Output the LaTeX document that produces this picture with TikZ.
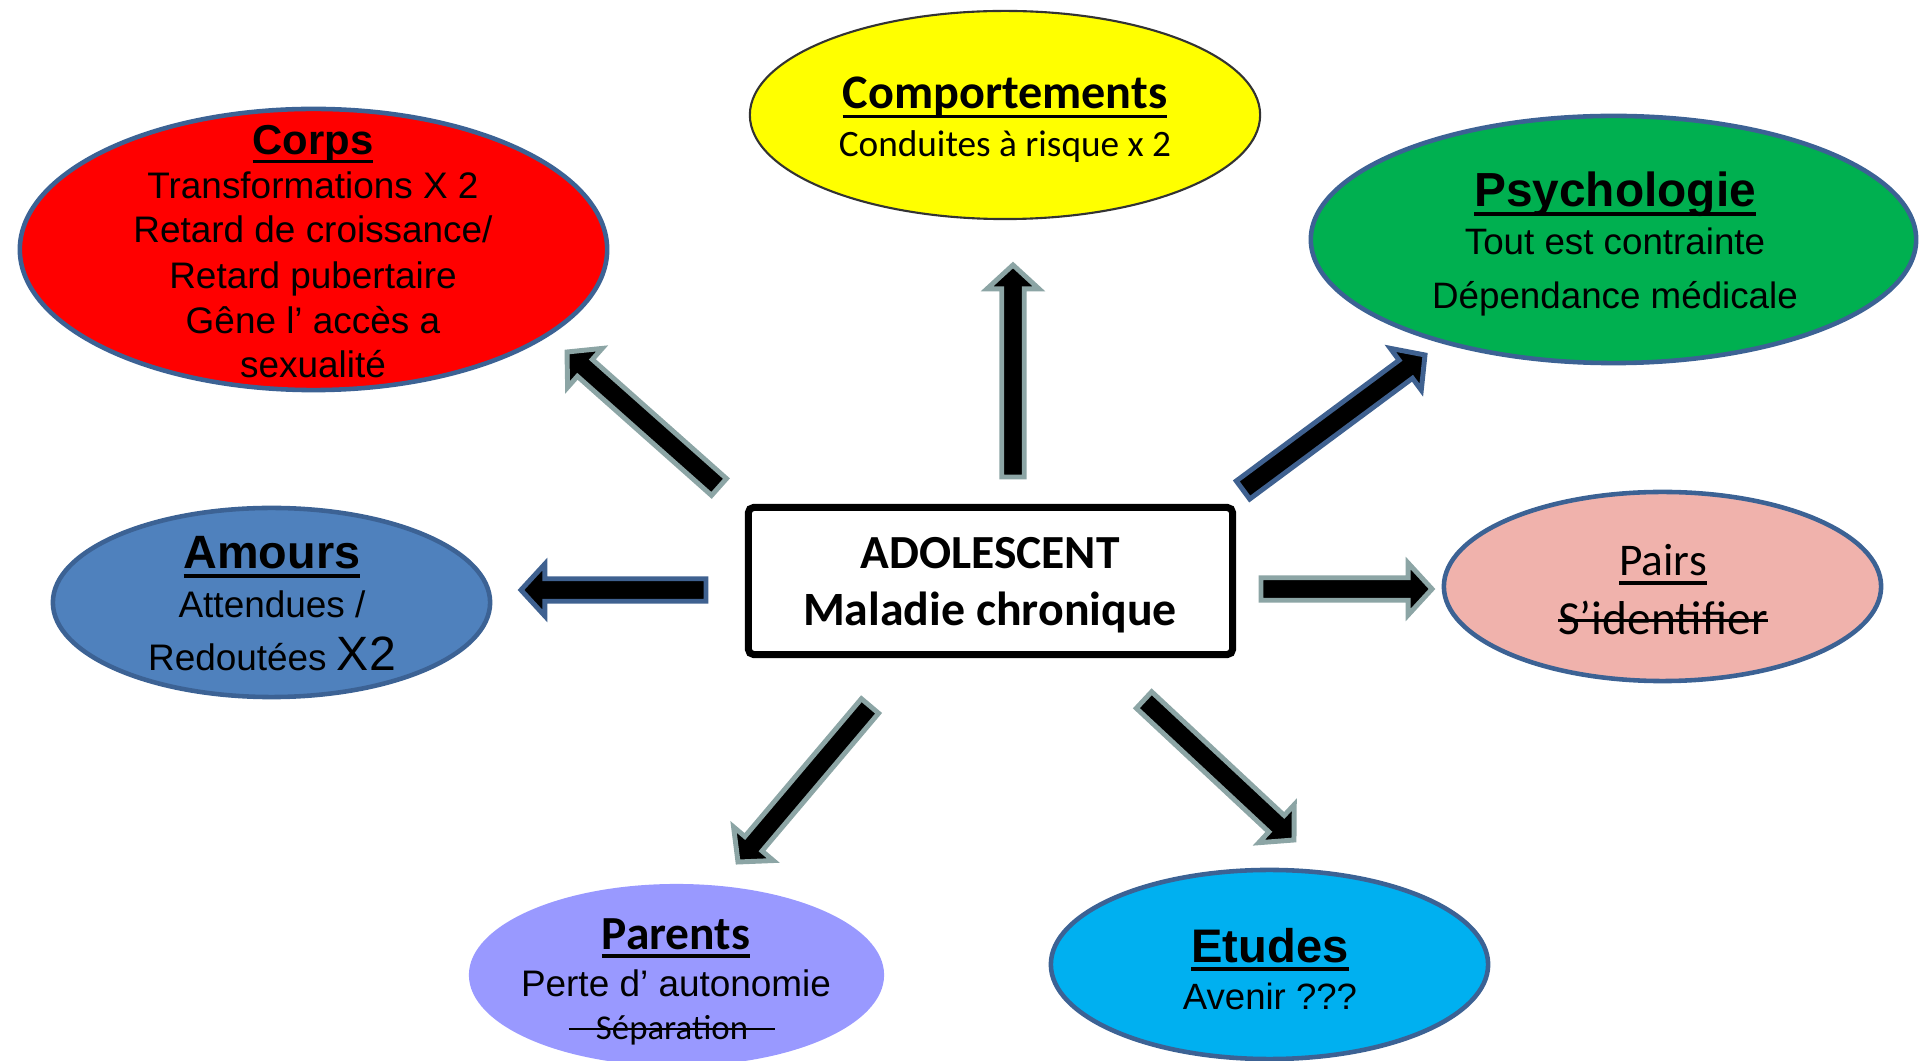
\documentclass[tikz,border=0pt]{standalone}
\usepackage{fontspec}
\usetikzlibrary{calc,shapes.geometric}
\newfontfamily\arial{Liberation Sans}
\newfontfamily\calibri{Carlito}
\newcommand\fs[1]{\fontsize{#1}{#1}\selectfont}
\newcommand\uln[1]{\setbox0\hbox{#1}\rlap{\rule[-0.19em]{\wd0}{0.075em}}\box0}
\newcommand\strk[2][0pt]{\setbox0\hbox{#2}\rlap{\hspace{-#1}\rule[0.27em]{\dimexpr\wd0+#1+#1\relax}{0.06em}}\box0}
\definecolor{eborder}{RGB}{60,98,148}
\definecolor{arrgray}{RGB}{140,165,165}
\definecolor{arrblue}{RGB}{63,97,144}
\definecolor{cred}{RGB}{255,0,0}
\definecolor{cyellow}{RGB}{255,255,0}
\definecolor{cgreen}{RGB}{0,176,80}
\definecolor{cblue}{RGB}{79,129,189}
\definecolor{cpink}{RGB}{240,178,172}
\definecolor{clav}{RGB}{153,153,255}
\definecolor{ccyan}{RGB}{0,176,240}
\tikzset{
  ell/.style={ellipse, draw=eborder, line width=1.3pt, inner sep=0pt},
  txt/.style={anchor=base, inner sep=0pt, text=black},
  arrg/.style={fill=black, draw=arrgray, line width=1.4pt, line join=miter},
  arrb/.style={fill=black, draw=arrblue, line width=1.4pt, line join=miter},
}
\newcommand\blockarrow[3]{%
  \coordinate (#2-hb) at ($(#2)!6.8pt!(#1)$);
  \draw[#3] ($(#1)!3.2pt!90:(#2)$) -- ($(#2-hb)!3.2pt!-90:(#1)$) -- ($(#2-hb)!7.4pt!-90:(#1)$) -- (#2) -- ($(#2-hb)!7.4pt!90:(#1)$) -- ($(#2-hb)!3.2pt!90:(#1)$) -- ($(#1)!3.2pt!-90:(#2)$) -- cycle;}
\begin{document}
\begin{tikzpicture}[x=0.01cm,y=-0.01cm]
\useasboundingbox (0,0) rectangle (1920,1061);
% ellipses
\node[ell, fill=cred, minimum width=5.87cm, minimum height=2.81cm] (corps) at (313.5,249.5) {};
\node[ell, fill=cyellow, draw=black!80, line width=0.6pt, minimum width=5.1cm, minimum height=2.08cm] (comp) at (1005,115) {};
\node[ell, fill=cgreen, minimum width=6.05cm, minimum height=2.47cm] (psy) at (1613.5,239.5) {};
\node[ell, fill=cblue, minimum width=4.37cm, minimum height=1.89cm] (amours) at (271.5,602.5) {};
\node[ell, fill=cpink, minimum width=4.37cm, minimum height=1.89cm] (pairs) at (1662.5,586.5) {};
\node[ellipse, fill=clav, inner sep=0pt, minimum width=4.15cm, minimum height=1.82cm] (parents) at (676.5,975) {};
\node[ell, fill=ccyan, minimum width=4.37cm, minimum height=1.89cm] (etudes) at (1269.5,964.5) {};
\node[draw=black, line width=2pt, rounded corners=1.5pt, fill=white, minimum width=4.84cm, minimum height=1.47cm] (ado) at (990.5,581) {};
% texts
\node[txt] (corps-t) at (313,155) {\arial\bfseries\fs{11.9}\uln{Corps}};
\node[txt] (corps-1) at (313,199) {\arial\fs{10.5}Transformations X 2};
\node[txt] (corps-2) at (313,243) {\arial\fs{10.5}Retard de croissance/};
\node[txt] (corps-3) at (313,289) {\arial\fs{10.5}Retard pubertaire};
\node[txt] (corps-4) at (313,334) {\arial\fs{10.5}Gêne l’ accès a};
\node[txt] (corps-5) at (313,378) {\arial\fs{10.5}sexualité};
\node[txt] (comp-t) at (1005,109) {\calibri\bfseries\fs{13.7}\uln{Comportements}};
\node[txt] (comp-1) at (1005,157) {\calibri\fs{10.6}Conduites à risque x 2};
\node[txt] (psy-t) at (1615,207) {\arial\bfseries\fs{13.6}\uln{Psychologie}};
\node[txt] (psy-1) at (1615,255) {\arial\fs{10.45}Tout est contrainte};
\node[txt] (psy-2) at (1615,309) {\arial\fs{10.45}Dépendance médicale};
\node[txt] (amours-t) at (272,569) {\arial\bfseries\fs{13.3}\uln{Amours}};
\node[txt] (amours-1) at (272,618) {\arial\fs{10.5}Attendues /};
\node[txt] (amours-2) at (272,671) {\arial\fs{10.5}Redoutées {\fs{13.7}X2}};
\node[txt] (ado-1) at (990,569) {\calibri\bfseries\fs{13.5}ADOLESCENT};
\node[txt] (ado-2) at (990,626) {\calibri\bfseries\fs{13.6}Maladie chronique};
\node[txt] (pairs-t) at (1663,576) {\calibri\fs{12.9}\uln{Pairs}};
\node[txt] (pairs-1) at (1663,635) {\calibri\fs{13.5}\strk{S’identifier}};
\node[txt] (parents-t) at (676,949) {\calibri\bfseries\fs{13.5}\uln{Parents}};
\node[txt] (parents-1) at (676,997) {\arial\fs{10.5}Perte d’ autonomie};
\node[txt] (parents-2) at (672,1039) {\calibri\fs{9.9}\strk[7.7pt]{Séparation}};
\node[txt] (etudes-t) at (1270,962) {\arial\bfseries\fs{13.4}\uln{Etudes}};
\node[txt] (etudes-1) at (1270,1009) {\arial\fs{10.4}Avenir ???};
% arrow end points
\coordinate (a1s) at (719,487); \coordinate (a1e) at (567,352);
\coordinate (a2s) at (1013,477); \coordinate (a2e) at (1013,265);
\coordinate (a3s) at (1243,490); \coordinate (a3e) at (1425,355);
\coordinate (a4s) at (706,590); \coordinate (a4e) at (521,590);
\coordinate (a5s) at (1261,589); \coordinate (a5e) at (1432,589);
\coordinate (a6s) at (870,706); \coordinate (a6e) at (738,862);
\coordinate (a7s) at (1144,700); \coordinate (a7e) at (1294,840);
\blockarrow{a1s}{a1e}{arrg}
\blockarrow{a2s}{a2e}{arrg}
\blockarrow{a3s}{a3e}{arrb}
\blockarrow{a4s}{a4e}{arrb}
\blockarrow{a5s}{a5e}{arrg}
\blockarrow{a6s}{a6e}{arrg}
\blockarrow{a7s}{a7e}{arrg}
\end{tikzpicture}
\end{document}
